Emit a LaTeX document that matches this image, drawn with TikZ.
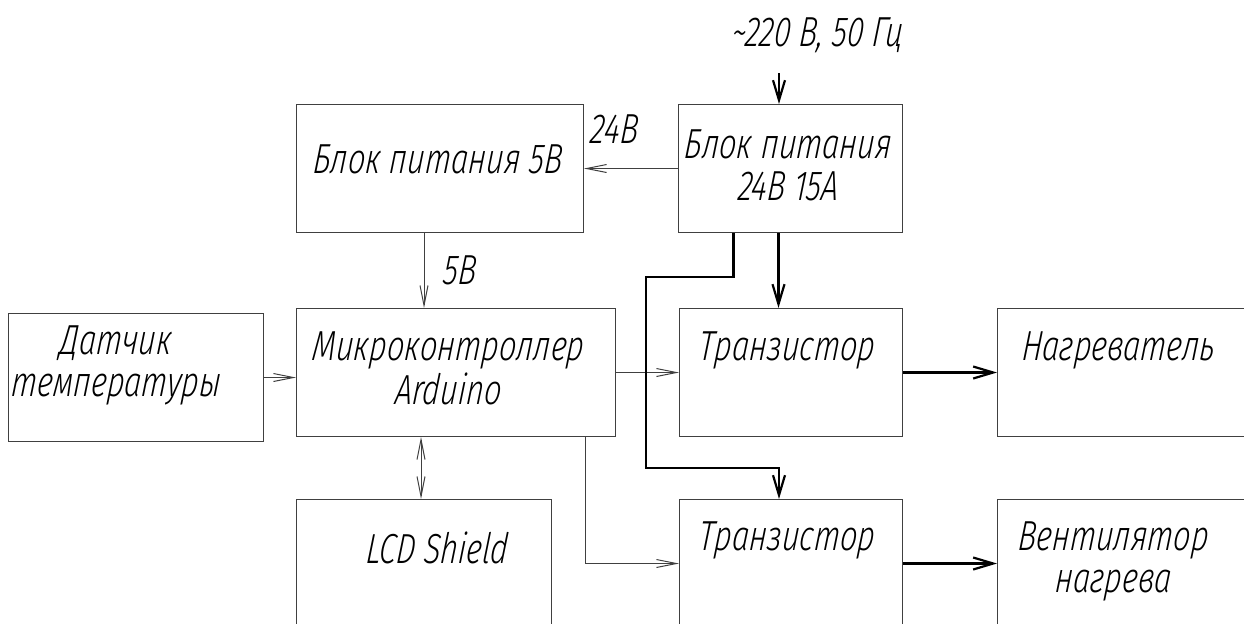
\documentclass[tikz,border=0pt]{standalone}
\usepackage{fontspec}
\newfontfamily\gostfont[UprightFont={* Light}, ItalicFont={* Light Italic},
	ItalicFeatures={FakeSlant=0.1}, FakeStretch=0.73]{Fira Sans}
\newcommand{\gost}{\gostfont\itshape\fontsize{21}{21}\selectfont}
\newcommand{\blocktext}[2]{\makebox[0pt]{\hspace*{#1}\begin{tabular}[t]{@{}c@{}}#2\end{tabular}}}
\usepackage{tikz}
\usetikzlibrary{arrows.meta, positioning}

\begin{document}
\begin{tikzpicture}[
		x=0.5pt, y=-0.5pt,
		>={Straight Barb[length=10pt, width=4pt]},
		block/.style={draw=black!75, line width=0.5pt, inner sep=0pt,
			anchor=north west, minimum height=64pt, font=\gost},
		lbl/.style={font=\gost, inner sep=0pt},
		signal/.style={draw=black!75, line width=0.5pt, ->},
		power/.style={line width=1.1pt, -{Straight Barb[length=10pt, width=6pt]}}
	]
	\useasboundingbox (0,0) rectangle (1244,623);
	\clip (0,0) rectangle (1244,623);

	% power supplies
	\node[block, minimum width=143.5pt, text height=34.5pt, text depth=29.5pt]
		(bp5) at (296,104) {\blocktext{-3pt}{Блок питания 5В}};
	\node[block, minimum width=112pt, text height=27pt, text depth=37pt]
		(bp24) at (678,104) {\blocktext{-3pt}{Блок питания\\24В 15А}};

	% control
	\node[block, minimum width=127.5pt, text height=20.5pt, text depth=43.5pt]
		(sensor) at (8,313) {\blocktext{-20.5pt}{Датчик\\температуры}};
	\node[block, minimum width=159.5pt, text height=26pt, text depth=38pt]
		(mcu) at (296,308) {\blocktext{-8.5pt}{Микроконтроллер\\Arduino}};
	\node[block, minimum width=127.5pt, text height=32pt, text depth=32pt]
		(lcd) at (296,499) {\blocktext{12.5pt}{LCD Shield}};

	% load side
	\node[block, minimum width=111.5pt, text height=26pt, text depth=38pt]
		(tr1) at (679,308) {\blocktext{-4.5pt}{Транзистор}};
	\node[block, minimum width=111.5pt, text height=25.5pt, text depth=38.5pt]
		(tr2) at (679,499) {\blocktext{-4.5pt}{Транзистор}};
	\node[block, minimum width=127.5pt, text height=26pt, text depth=38pt]
		(heater) at (997,308) {\blocktext{-7.5pt}{Нагреватель}};
	\node[block, minimum width=127.5pt, text height=25.5pt, text depth=38.5pt]
		(fan) at (997,499) {\blocktext{-12.5pt}{Вентилятор\\нагрева}};

	% mains input
	\node[lbl] (seti) at (817,35) {\textasciitilde220 В, 50 Гц};
	\coordinate (vhod) at (779,73);

	% signal lines
	\draw[signal] (bp24.west) -- (bp5.east)
		node[lbl, anchor=base west, xshift=2.5pt, yshift=12.5pt] (u24) {24В};
	\draw[signal] ([xshift=-8pt]bp5.south) -- ([xshift=-8pt]bp5.south |- mcu.north)
		node[lbl, midway, right=9pt] (u5) {5В};
	\draw[signal] (sensor.east) -- (sensor.east -| mcu.west);
	\draw[signal, <->] ([xshift=-17.5pt]mcu.south) -- ([xshift=-17.5pt]mcu.south |- lcd.north);
	\draw[signal] (mcu.east) -- (tr1.west);
	\draw[signal] ([xshift=-15.5pt]mcu.south east) |- (tr2.west);

	% power lines
	\draw[power] (vhod) -- (vhod |- bp24.north);
	\draw[power] ([xshift=-6pt]bp24.south) -- ([xshift=-6pt]bp24.south |- tr1.north);
	\draw[power] ([xshift=-28.5pt]bp24.south) -- ++(0,44) -| (646,468) -| ([xshift=-6pt]tr2.north);
	\draw[power] (tr1.east) -- (heater.west);
	\draw[power] (tr2.east) -- (fan.west);
\end{tikzpicture}
\end{document}
